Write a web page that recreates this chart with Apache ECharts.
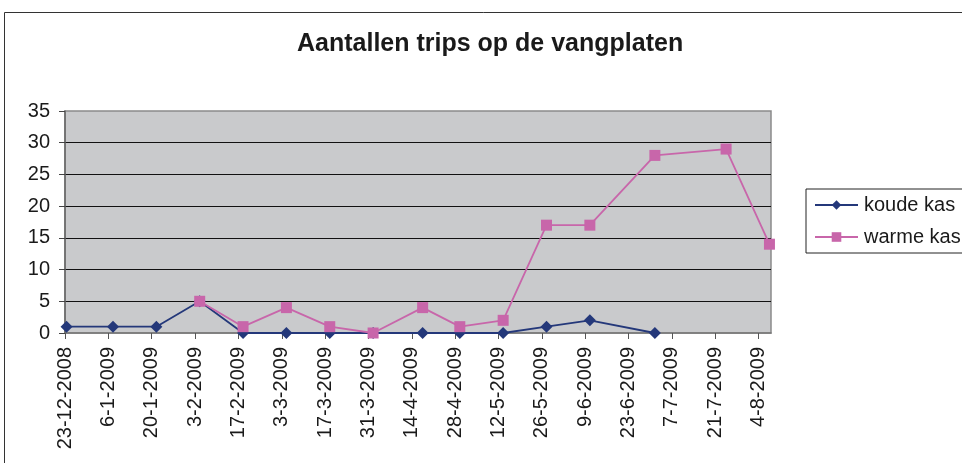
<!DOCTYPE html>
<html>
<head>
<meta charset="utf-8">
<script src="https://cdn.jsdelivr.net/npm/echarts@6/dist/echarts.min.js"></script>
<style>
  html, body { margin: 0; padding: 0; background: #fff; }
  #chart { width: 962px; height: 463px; }
</style>
</head>
<body>
<div id="chart"></div>
<script>
// tick labels on the date axis (every 14 days)
const tickLabels = ['23-12-2008', '6-1-2009', '20-1-2009', '3-2-2009', '17-2-2009', '3-3-2009',
  '17-3-2009', '31-3-2009', '14-4-2009', '28-4-2009', '12-5-2009', '26-5-2009', '9-6-2009',
  '23-6-2009', '7-7-2009', '21-7-2009', '4-8-2009'];

const koudeDates = ['23-12-2008', '7-1-2009', '21-1-2009', '4-2-2009', '18-2-2009', '4-3-2009',
  '18-3-2009', '1-4-2009', '17-4-2009', '29-4-2009', '13-5-2009', '27-5-2009', '10-6-2009', '1-7-2009'];
const koudeValues = [1, 1, 1, 5, 0, 0, 0, 0, 0, 0, 0, 1, 2, 0];

const warmeDates = ['4-2-2009', '18-2-2009', '4-3-2009', '18-3-2009', '1-4-2009', '17-4-2009',
  '29-4-2009', '13-5-2009', '27-5-2009', '10-6-2009', '1-7-2009', '24-7-2009', '7-8-2009'];
const warmeValues = [5, 1, 4, 1, 0, 4, 1, 2, 17, 17, 28, 29, 14];

const FONT = "'Liberation Sans', Arial, sans-serif";
const DAY = 86400000;

function parseDate(s) {
  const p = s.split('-').map(Number);
  return Date.UTC(p[2], p[1] - 1, p[0]);
}
const start = parseDate(tickLabels[0]);
function dayNum(s) { return Math.round((parseDate(s) - start) / DAY); }

const tickValues = tickLabels.map(dayNum);
const labelByDay = {};
tickLabels.forEach((l, i) => { labelByDay[tickValues[i]] = l; });

// excel puts each point in the middle of its day
const koudeData = koudeDates.map((d, i) => [dayNum(d) + 0.5, koudeValues[i]]);
const warmeData = warmeDates.map((d, i) => [dayNum(d) + 0.5, warmeValues[i]]);

const chart = echarts.init(document.getElementById('chart'));

chart.setOption({
  animation: false,
  textStyle: { fontFamily: FONT },
  title: {
    text: 'Aantallen trips op de vangplaten',
    left: 297,
    top: 32,
    padding: 0,
    textStyle: { fontSize: 25, fontWeight: 'bold', color: '#1a1a1a', fontFamily: FONT }
  },
  graphic: [{
    type: 'rect',
    silent: true,
    shape: { x: 4.5, y: 12.5, width: 1000, height: 500 },
    style: { fill: null, stroke: '#333', lineWidth: 1 }
  }],
  legend: {
    orient: 'vertical',
    left: 806,
    top: 189,
    padding: [6, 10, 6, 8],
    itemWidth: 43,
    itemHeight: 12,
    itemGap: 12,
    borderColor: '#222',
    borderWidth: 1,
    textStyle: { fontSize: 20, color: '#1a1a1a', fontFamily: FONT, padding: [0, 0, 0, 1] },
    data: ['koude kas', 'warme kas']
  },
  grid: {
    left: 65,
    top: 111,
    right: 191,
    bottom: 130,
    show: true,
    backgroundColor: '#c9cacc',
    borderColor: '#8a8a8a',
    borderWidth: 1.5
  },
  xAxis: {
    type: 'value',
    min: 0,
    max: 228,
    interval: 14,
    axisLine: { show: true, lineStyle: { color: '#777', width: 1.5 } },
    axisTick: { show: true, length: 6, lineStyle: { color: '#555' }, customValues: tickValues },
    splitLine: { show: false },
    axisLabel: {
      rotate: 90,
      margin: 14,
      fontSize: 20,
      color: '#1a1a1a',
      fontFamily: FONT,
      customValues: tickValues,
      formatter: v => labelByDay[v] || ''
    }
  },
  yAxis: {
    type: 'value',
    min: 0,
    max: 35,
    interval: 5,
    axisLine: { show: true, lineStyle: { color: '#666', width: 1.5 } },
    axisTick: { show: true, length: 6, lineStyle: { color: '#444' } },
    splitLine: { show: true, showMaxLine: false, showMinLine: false, lineStyle: { color: '#111', width: 1 } },
    axisLabel: { fontSize: 20, color: '#1a1a1a', margin: 15, fontFamily: FONT }
  },
  series: [
    {
      name: 'koude kas',
      type: 'line',
      data: koudeData,
      symbol: 'diamond',
      symbolSize: 12,
      itemStyle: { color: '#24387a' },
      lineStyle: { color: '#24387a', width: 1.8 },
      z: 2
    },
    {
      name: 'warme kas',
      type: 'line',
      data: warmeData,
      symbol: 'rect',
      symbolSize: 11,
      itemStyle: { color: '#c866aa' },
      lineStyle: { color: '#c866aa', width: 1.8 },
      z: 3
    }
  ]
});
</script>
</body>
</html>
